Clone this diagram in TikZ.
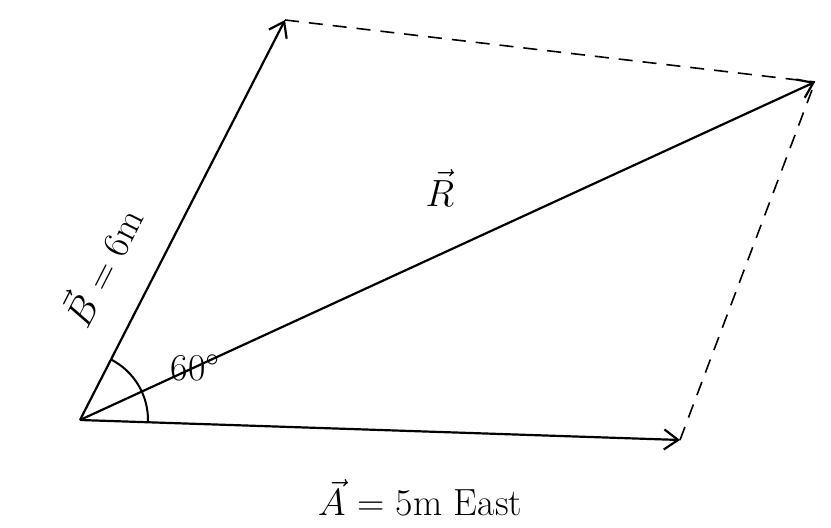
\documentclass[tikz,border=0pt]{standalone}
\usepackage{fix-cm}
\usetikzlibrary{arrows.meta}
\tikzset{
  vec/.style={black,line width=2.2bp,-{Straight Barb[length=14bp,width=20bp]}},
  helper/.style={black,line width=1.6bp,dash pattern=on 14bp off 10bp},
  lbl/.style={font=\fontsize{38}{42}\selectfont}
}
\begin{document}
\begin{tikzpicture}[x=1bp,y=1bp]
  \path[use as bounding box] (0,0) rectangle (831,528);
  \fill[white] (0,0) rectangle (831,528);

  \coordinate (o) at (80,108);
  \coordinate (a) at (680,88);
  \coordinate (b) at (285,508);
  \coordinate (r) at (815,446);

  \draw[vec] (o) -- (a);
  \draw[vec] (o) -- (b);
  \draw[vec] (o) -- (r);
  \draw[helper] (b) -- (r);
  \draw[helper] (a) -- (r);

  \draw[black,line width=2bp] ([shift={(-2:68)}]o) arc (-2:63:68);

  \node[lbl] (alabel) at (420,30) {$\vec{A}$ = 5m East};
  \node[lbl,rotate=63] (blabel) at (100,262) {$\vec{B}$ = 6m};
  \node[lbl] (rlabel) at (440,340) {$\vec{R}$};
  \node[lbl] (theta) at (195,160) {60$^{\circ}$};
\end{tikzpicture}
\end{document}
